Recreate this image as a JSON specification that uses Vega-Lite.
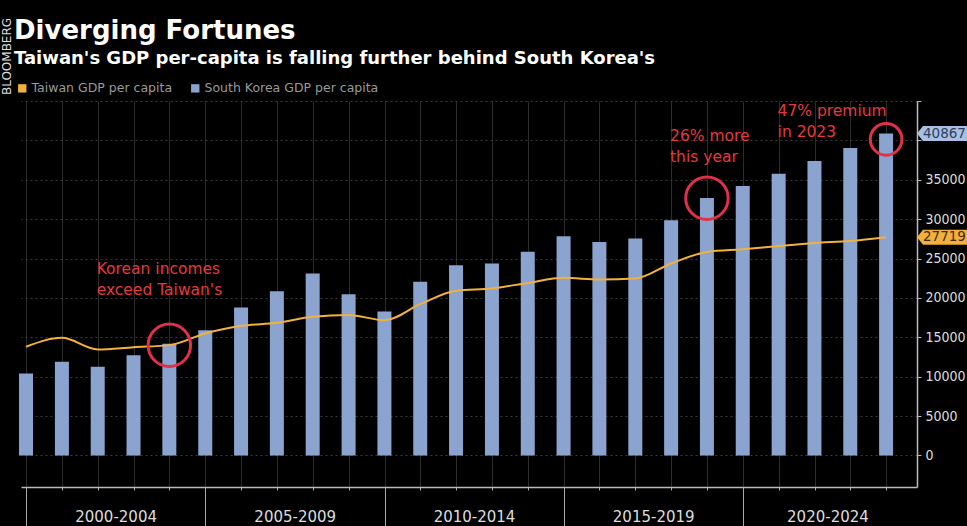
{
  "$schema": "https://vega.github.io/schema/vega-lite/v6.json",
  "width": 896,
  "height": 386,
  "autosize": {"type": "none"},
  "padding": {"left": 21, "top": 101, "right": 50, "bottom": 39},
  "background": "#000000",
  "config": {"view": {"stroke": null}, "font": "DejaVu Sans"},
  "title": {
    "text": "Diverging Fortunes",
    "subtitle": "Taiwan's GDP per-capita is falling further behind South Korea's",
    "anchor": "start",
    "frame": "group",
    "font": "DejaVu Sans",
    "fontSize": 26,
    "fontWeight": "bold",
    "color": "#ffffff",
    "subtitleFont": "DejaVu Sans",
    "subtitleFontSize": 18,
    "subtitleFontWeight": "bold",
    "subtitleColor": "#ffffff",
    "subtitlePadding": 6,
    "offset": 32,
    "dx": -7,
    "dy": 83
  },
  "datasets": {
    "gdp": [
      {"date": "1999-12-31", "series": "South Korea GDP per capita", "gdp": 10400},
      {"date": "2000-12-31", "series": "South Korea GDP per capita", "gdp": 11900},
      {"date": "2001-12-31", "series": "South Korea GDP per capita", "gdp": 11260},
      {"date": "2002-12-31", "series": "South Korea GDP per capita", "gdp": 12740},
      {"date": "2003-12-31", "series": "South Korea GDP per capita", "gdp": 14200},
      {"date": "2004-12-31", "series": "South Korea GDP per capita", "gdp": 15910},
      {"date": "2005-12-31", "series": "South Korea GDP per capita", "gdp": 18790},
      {"date": "2006-12-31", "series": "South Korea GDP per capita", "gdp": 20860},
      {"date": "2007-12-31", "series": "South Korea GDP per capita", "gdp": 23100},
      {"date": "2008-12-31", "series": "South Korea GDP per capita", "gdp": 20480},
      {"date": "2009-12-31", "series": "South Korea GDP per capita", "gdp": 18280},
      {"date": "2010-12-31", "series": "South Korea GDP per capita", "gdp": 22040},
      {"date": "2011-12-31", "series": "South Korea GDP per capita", "gdp": 24160},
      {"date": "2012-12-31", "series": "South Korea GDP per capita", "gdp": 24370},
      {"date": "2013-12-31", "series": "South Korea GDP per capita", "gdp": 25850},
      {"date": "2014-12-31", "series": "South Korea GDP per capita", "gdp": 27830},
      {"date": "2015-12-31", "series": "South Korea GDP per capita", "gdp": 27110},
      {"date": "2016-12-31", "series": "South Korea GDP per capita", "gdp": 27540},
      {"date": "2017-12-31", "series": "South Korea GDP per capita", "gdp": 29860},
      {"date": "2018-12-31", "series": "South Korea GDP per capita", "gdp": 32690},
      {"date": "2019-12-31", "series": "South Korea GDP per capita", "gdp": 34210},
      {"date": "2020-12-31", "series": "South Korea GDP per capita", "gdp": 35780},
      {"date": "2021-12-31", "series": "South Korea GDP per capita", "gdp": 37380},
      {"date": "2022-12-31", "series": "South Korea GDP per capita", "gdp": 39030},
      {"date": "2023-12-31", "series": "South Korea GDP per capita", "gdp": 40867},
      {"date": "1999-12-31", "series": "Taiwan GDP per capita", "gdp": 13800},
      {"date": "2000-12-31", "series": "Taiwan GDP per capita", "gdp": 14940},
      {"date": "2001-12-31", "series": "Taiwan GDP per capita", "gdp": 13460},
      {"date": "2002-12-31", "series": "Taiwan GDP per capita", "gdp": 13750},
      {"date": "2003-12-31", "series": "Taiwan GDP per capita", "gdp": 14010},
      {"date": "2004-12-31", "series": "Taiwan GDP per capita", "gdp": 15490},
      {"date": "2005-12-31", "series": "Taiwan GDP per capita", "gdp": 16460},
      {"date": "2006-12-31", "series": "Taiwan GDP per capita", "gdp": 16840},
      {"date": "2007-12-31", "series": "Taiwan GDP per capita", "gdp": 17600},
      {"date": "2008-12-31", "series": "Taiwan GDP per capita", "gdp": 17820},
      {"date": "2009-12-31", "series": "Taiwan GDP per capita", "gdp": 17180},
      {"date": "2010-12-31", "series": "Taiwan GDP per capita", "gdp": 19210},
      {"date": "2011-12-31", "series": "Taiwan GDP per capita", "gdp": 20900},
      {"date": "2012-12-31", "series": "Taiwan GDP per capita", "gdp": 21200},
      {"date": "2013-12-31", "series": "Taiwan GDP per capita", "gdp": 21910},
      {"date": "2014-12-31", "series": "Taiwan GDP per capita", "gdp": 22550},
      {"date": "2015-12-31", "series": "Taiwan GDP per capita", "gdp": 22340},
      {"date": "2016-12-31", "series": "Taiwan GDP per capita", "gdp": 22470},
      {"date": "2017-12-31", "series": "Taiwan GDP per capita", "gdp": 24370},
      {"date": "2018-12-31", "series": "Taiwan GDP per capita", "gdp": 25840},
      {"date": "2019-12-31", "series": "Taiwan GDP per capita", "gdp": 26180},
      {"date": "2020-12-31", "series": "Taiwan GDP per capita", "gdp": 26600},
      {"date": "2021-12-31", "series": "Taiwan GDP per capita", "gdp": 26980},
      {"date": "2022-12-31", "series": "Taiwan GDP per capita", "gdp": 27240},
      {"date": "2023-12-31", "series": "Taiwan GDP per capita", "gdp": 27719}
    ],
    "notes": [
      {"date": "2001-12-20", "value": 24500, "note": "Korean incomes\nexceed Taiwan's"},
      {"date": "2017-12-20", "value": 41400, "note": "26% more\nthis year"},
      {"date": "2020-12-20", "value": 44600, "note": "47% premium\nin 2023"}
    ],
    "circles": [
      {"date": "2003-12-31", "value": 14000},
      {"date": "2018-12-31", "value": 32650}
    ],
    "circleSmall": [
      {"date": "2023-12-31", "value": 40130}
    ]
  },
  "layer": [
    {
      "data": {"name": "gdp"},
      "transform": [{"filter": "datum.series === 'South Korea GDP per capita'"}],
      "mark": {"type": "bar", "width": 14},
      "encoding": {
        "x": {
          "field": "date", "type": "temporal",
          "scale": {"domain": [{"year": 1999, "month": 12, "date": 31}, {"year": 2024, "month": 9, "date": 20}]},
          "axis": {
            "orient": "bottom", "title": null,
            "tickCount": {"interval": "year", "step": 1},
            "grid": true, "gridColor": "#2c2c2c", "gridWidth": 1,
            "labels": false, "ticks": true, "tickSize": 3, "tickColor": "#aaaaaa",
            "domain": true, "domainColor": "#bbbbbb", "domainWidth": 1.5
          }
        },
        "y": {
          "field": "gdp", "type": "quantitative",
          "scale": {"domain": [-4000, 45000], "nice": false, "zero": false},
          "axis": {
            "orient": "right", "title": null,
            "values": [0, 5000, 10000, 15000, 20000, 25000, 30000, 35000, 40000, 45000],
            "format": "d",
            "labelExpr": "datum.value > 35000 ? '' : datum.label",
            "grid": true, "gridColor": "#3a3a3a", "gridDash": [2, 3],
            "domain": true, "domainColor": "#bbbbbb", "domainWidth": 1.5,
            "ticks": true, "tickSize": 4, "tickColor": "#bbbbbb",
            "labelColor": "#dddddd", "labelFontSize": 14, "labelFont": "DejaVu Sans Condensed",
            "labelPadding": 4
          }
        },
        "y2": {"datum": 0},
        "color": {
          "field": "series", "type": "nominal",
          "scale": {"domain": ["Taiwan GDP per capita", "South Korea GDP per capita"], "range": ["#f2b13f", "#8aa3cf"]},
          "legend": {
            "orient": "none", "legendX": -5, "legendY": -19,
            "direction": "horizontal", "title": null,
            "symbolType": "square", "symbolSize": 70, "symbolStrokeWidth": 0,
            "labelFontSize": 12.5, "labelColor": "#9a9a9a", "labelFont": "DejaVu Sans",
            "labelLimit": 400, "columnPadding": 16, "labelOffset": 3,
            "encode": {"symbols": {"update": {"fill": {"scale": "color", "field": "value"}, "stroke": {"value": "transparent"}}}}
          }
        }
      }
    },
    {
      "data": {"name": "gdp"},
      "transform": [{"filter": "datum.series === 'Taiwan GDP per capita'"}],
      "mark": {"type": "line", "interpolate": "monotone", "strokeWidth": 2},
      "encoding": {
        "x": {
          "field": "date", "type": "temporal",
          "axis": {
            "orient": "bottom", "title": null,
            "values": [
              {"year": 2000, "month": 1, "date": 1},
              {"year": 2005, "month": 1, "date": 1},
              {"year": 2010, "month": 1, "date": 1},
              {"year": 2015, "month": 1, "date": 1},
              {"year": 2020, "month": 1, "date": 1}
            ],
            "grid": false, "labels": false, "domain": false,
            "ticks": true, "tickSize": 40, "tickColor": "#aaaaaa", "tickWidth": 1
          }
        },
        "y": {
          "field": "gdp", "type": "quantitative",
          "axis": {
            "orient": "left", "title": "BLOOMBERG",
            "labels": false, "ticks": false, "domain": false, "grid": false,
            "titleAngle": -90, "titleX": -15, "titleY": -45,
            "titleAlign": "center", "titleBaseline": "middle",
            "titleFontSize": 12, "titleColor": "#dddddd", "titleFontWeight": "normal"
          }
        },
        "color": {"field": "series", "type": "nominal"}
      }
    },
    {
      "data": {"name": "circles"},
      "mark": {"type": "point", "shape": "circle", "filled": false, "size": 1800, "stroke": "#e0304a", "strokeWidth": 3, "opacity": 1},
      "encoding": {
        "x": {
          "field": "date", "type": "temporal",
          "axis": {
            "orient": "bottom", "title": null,
            "values": [
              {"year": 2002, "month": 7, "date": 1},
              {"year": 2007, "month": 7, "date": 1},
              {"year": 2012, "month": 7, "date": 1},
              {"year": 2017, "month": 7, "date": 1},
              {"year": 2022, "month": 5, "date": 12}
            ],
            "labelExpr": "(floor((year(datum.value)-2000)/5)*5+2000) + '-' + (floor((year(datum.value)-2000)/5)*5+2004)",
            "ticks": false, "domain": false, "grid": false,
            "labelPadding": 22, "labelFontSize": 15, "labelColor": "#dddddd",
            "labelFont": "DejaVu Sans", "labelFlush": false, "labelOverlap": false
          }
        },
        "y": {"field": "value", "type": "quantitative", "axis": null}
      }
    },
    {
      "data": {"name": "circleSmall"},
      "mark": {"type": "point", "shape": "circle", "filled": false, "size": 1000, "stroke": "#e0304a", "strokeWidth": 3, "opacity": 1},
      "encoding": {
        "x": {"field": "date", "type": "temporal", "axis": null},
        "y": {"field": "value", "type": "quantitative", "axis": null}
      }
    },
    {
      "data": {"name": "notes"},
      "mark": {"type": "text", "align": "left", "baseline": "top", "fontSize": 15.5, "lineHeight": 21, "color": "#e23a3f", "font": "DejaVu Sans", "lineBreak": "\n"},
      "encoding": {
        "x": {"field": "date", "type": "temporal", "axis": null},
        "y": {"field": "value", "type": "quantitative", "axis": null},
        "text": {"field": "note"}
      }
    },
    {
      "data": {"name": "gdp"},
      "transform": [{"filter": "year(datum.date) === 2023"}],
      "mark": {"type": "point", "shape": "M0,0 L0.4,-0.5 L4,-0.5 L4,0.5 L0.4,0.5 Z", "size": 900, "filled": true, "strokeWidth": 0, "opacity": 1},
      "encoding": {
        "x": {"value": "width"},
        "y": {"field": "gdp", "type": "quantitative", "axis": null},
        "fill": {"condition": {"test": "datum.series === 'Taiwan GDP per capita'", "value": "#f2b13f"}, "value": "#a9c0e2"}
      }
    },
    {
      "data": {"name": "gdp"},
      "transform": [{"filter": "year(datum.date) === 2023"}],
      "mark": {"type": "text", "align": "left", "baseline": "middle", "dx": 6, "fontSize": 13.5, "font": "DejaVu Sans"},
      "encoding": {
        "x": {"value": "width"},
        "y": {"field": "gdp", "type": "quantitative", "axis": null},
        "text": {"field": "gdp", "type": "quantitative", "format": "d"},
        "color": {"condition": {"test": "datum.series === 'Taiwan GDP per capita'", "value": "#3d2b00"}, "value": "#2c3e5c"}
      }
    }
  ],
  "resolve": {"axis": {"x": "independent", "y": "independent"}}
}
